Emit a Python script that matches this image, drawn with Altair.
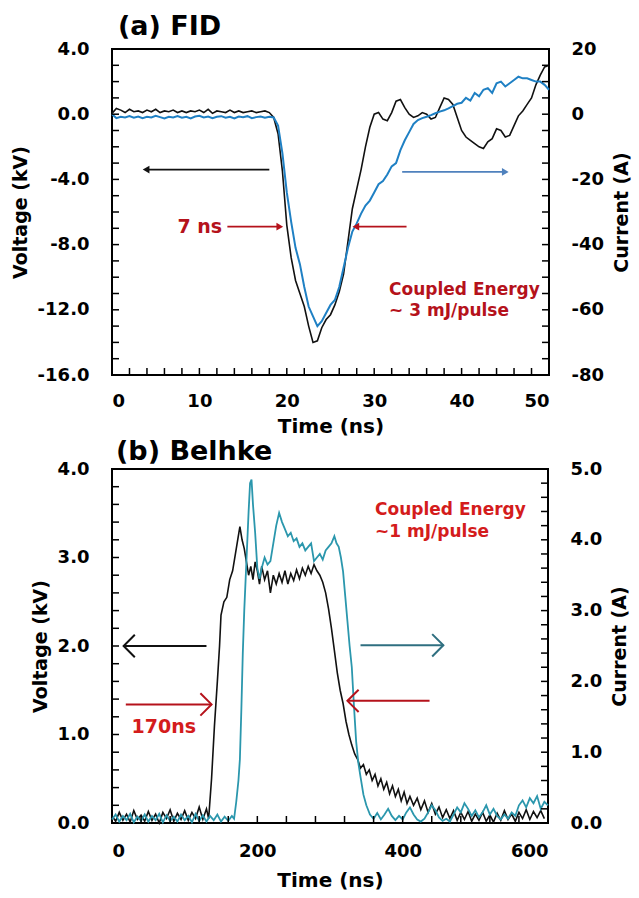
import altair as alt
import pandas as pd

FONT = "DejaVu Sans"
RED_A = "#b5121b"
RED_B = "#d41c1c"
BLUE_A = "#1f80c4"
BLUE_ARROW = "#4f81bd"
TEAL_B = "#2b97ad"
TEAL_ARROW = "#2f6f80"

# ---------------- Panel (a) FID ----------------
a_time = [0.0, 0.5, 1.0, 1.5, 2.0, 2.5, 3.0, 3.5, 4.0, 4.5,
          5.0, 5.5, 6.0, 6.5, 7.0, 7.5, 8.0, 8.5, 9.0, 9.5,
          10.0, 10.5, 11.0, 11.5, 12.0, 12.5, 13.0, 13.5, 14.0, 14.5,
          15.0, 15.5, 16.0, 16.5, 17.0, 17.5, 18.0, 18.5, 19.0, 19.5,
          20.0, 20.5, 21.0, 21.5, 22.0, 22.5, 23.0, 23.5, 24.0, 24.5,
          25.0, 25.5, 26.0, 26.5, 27.0, 27.5, 28.0, 28.5, 29.0, 29.5,
          30.0, 30.5, 31.0, 31.5, 32.0, 32.5, 33.0, 33.5, 34.0, 34.5,
          35.0, 35.5, 36.0, 36.5, 37.0, 37.5, 38.0, 38.5, 39.0, 39.5,
          40.0, 40.5, 41.0, 41.5, 42.0, 42.5, 43.0, 43.5, 44.0, 44.5,
          45.0, 45.5, 46.0, 46.5, 47.0, 47.5, 48.0, 48.5, 49.0, 49.5,
          50.0]
a_voltage = [0.05, 0.35, 0.25, 0.1, 0.3, 0.15, 0.2, 0.1, 0.25, 0.15,
             0.3, 0.1, 0.2, 0.15, 0.25, 0.1, 0.2, 0.1, 0.2, 0.15,
             0.25, 0.1, 0.3, 0.05, 0.2, 0.15, 0.1, 0.25, 0.1, 0.2,
             0.1, 0.15, 0.2, 0.1, 0.15, 0.2, 0.1, -0.2, -1.2, -3.5,
             -6.8, -8.8, -10.2, -11.0, -11.8, -13.0, -14.0, -13.9, -13.1, -12.6,
             -12.3, -11.7, -10.9, -9.8, -7.8, -5.8, -4.6, -3.4, -2.0, -0.8,
             0.0, 0.1, -0.3, -0.4, 0.1, 0.8, 0.9, 0.4, 0.0, -0.2,
             -0.1, 0.1, 0.0, -0.3, -0.2, 0.4, 1.0, 0.9, 0.6, -0.2,
             -1.0, -1.4, -1.6, -1.8, -2.0, -2.1, -1.7, -1.5, -0.9, -1.0,
             -1.4, -1.3, -0.7, -0.1, 0.2, 0.6, 1.0, 1.8, 2.4, 2.9,
             3.0]
a_current = [0.0, -1.2, -0.8, -1.0, -0.6, -1.1, -0.7, -1.2, -0.8, -1.0,
             -0.5, -0.9, -1.3, -0.8, -1.0, -0.6, -1.1, -0.8, -1.3, -0.7,
             -0.5, -1.0, -0.7, -1.2, -0.8, -0.6, -1.1, -0.8, -1.3, -0.7,
             -0.9, -0.6, -1.2, -0.9, -0.7, -1.1, -0.8, -1.0, -3.5, -12.0,
             -24.0, -33.0, -41.0, -46.0, -53.0, -59.0, -62.0, -65.0, -63.5, -61.0,
             -58.5, -57.0, -53.0, -47.0, -41.0, -36.0, -33.5, -30.5, -28.0, -26.5,
             -24.0, -21.5, -20.5, -18.5, -16.0, -15.0, -11.0, -8.0, -5.5, -3.0,
             -1.8, -1.2, -0.8, -0.3, 0.3, 0.8, 1.2, 1.8, 2.5, 3.2,
             3.5, 5.0, 4.2, 6.5, 5.5, 7.5, 8.0, 6.5, 9.5, 10.0,
             8.5, 9.5, 10.5, 11.5, 11.0, 11.0, 10.5, 10.0, 10.0, 9.0,
             7.5]

a_x_labels = [0, 10, 20, 30, 40, 50]
a_x_ticks = [2, 4, 6, 8, 10, 12, 14, 16, 18, 20, 22, 24, 26, 28, 30, 32, 34, 36, 38, 40, 42, 44, 46, 48]
a_v_labels = [-16, -12, -8, -4, 0, 4]
a_v_ticks = [-15, -14, -13, -12, -11, -10, -9, -8, -7, -6, -5, -4, -3, -2, -1, 0, 1, 2, 3]
a_i_labels = [-80, -60, -40, -20, 0, 20]
a_i_ticks = [-75, -70, -65, -60, -55, -50, -45, -40, -35, -30, -25, -20, -15, -10, -5, 0, 5, 10, 15]

# annotations (data units)
a_volt_arrows = pd.DataFrame({"x1": [18.0, 13.2, 33.7], "x2": [3.9, 19.2, 27.9],
                              "y": [-3.4, -6.9, -6.9], "c": ["black", "red", "red"],
                              "dir": ["left", "right", "left"]})
a_curr_arrows = pd.DataFrame({"x1": [33.2], "x2": [45.0], "y": [-17.7]})
a_texts = pd.DataFrame({"x": [12.6, 31.7, 31.7], "y": [-6.9, -10.8, -12.1],
                        "label": ["7 ns", "Coupled Energy", "~ 3 mJ/pulse"]})

# ---------------- Panel (b) Belhke ----------------
b_volt_time = (list(range(0, 131, 5)) +
               [133, 137, 141, 145, 148, 150, 154, 158, 162, 166, 170, 174, 176, 179, 182, 185, 188, 191, 194, 197] +
               [200, 203, 206, 210, 214, 218, 222, 226, 230, 234, 238, 242, 246, 250, 254, 258, 262, 266, 270,
                274, 278, 282, 286, 290, 294, 298] +
               [302, 306, 310, 314, 318, 322, 326, 330, 334, 338, 342, 346, 350, 354, 358, 362, 366, 370, 374,
                378, 382, 386, 390, 394, 398, 402, 406, 410] +
               list(range(415, 596, 5)))
b_voltage = ([0.08, 0.02, 0.12, 0.03, 0.10, 0.01, 0.14, 0.04, 0.09, 0.02, 0.13, 0.03, 0.10, 0.00, 0.12,
              0.05, 0.15, 0.02, 0.11, 0.04, 0.14, 0.03, 0.12, 0.05, 0.18, 0.04, 0.16] +
             [0.05, 0.5, 1.1, 1.6, 2.0, 2.35, 2.5, 2.55, 2.75, 2.85, 3.05, 3.25, 3.35, 3.2, 3.1, 2.95, 2.8, 2.9, 2.75, 2.95] +
             [2.85, 2.7, 2.9, 2.75, 2.85, 2.6, 2.8, 2.7, 2.82, 2.72, 2.85, 2.7, 2.82, 2.74, 2.86, 2.76, 2.88, 2.8, 2.9,
              2.82, 2.92, 2.85, 2.8, 2.72, 2.6, 2.42] +
             [2.2, 1.95, 1.7, 1.5, 1.35, 1.15, 1.0, 0.88, 0.78, 0.72, 0.62, 0.66, 0.55, 0.6, 0.48, 0.55, 0.42, 0.5, 0.38,
              0.46, 0.33, 0.42, 0.3, 0.38, 0.25, 0.35, 0.22, 0.3] +
             [0.2, 0.28, 0.15, 0.25, 0.12, 0.22, 0.1, 0.18, 0.06, 0.15, 0.05, 0.14, 0.03, 0.12, 0.04, 0.13, 0.02, 0.1,
              0.03, 0.12, 0.02, 0.09, 0.01, 0.11, 0.03, 0.14, 0.04, 0.1, 0.02, 0.12, 0.05, 0.15, 0.04, 0.13, 0.06,
              0.14, 0.05])
b_curr_time = (list(range(0, 166, 5)) +
               [168, 171, 174, 176, 178, 180, 182, 185, 188, 190, 192, 194, 197, 200, 203, 206, 210, 214, 218, 222,
                226, 230, 234, 238, 242, 246, 250, 254, 258, 262, 266, 270, 274, 278, 282, 286, 290, 294, 298, 302,
                306, 309, 312, 315, 318, 321, 324, 327, 330, 333, 336, 339, 342, 346, 350, 355] +
               list(range(360, 601, 5)))
b_current = ([0.05, 0.12, 0.02, 0.1, 0.04, 0.13, 0.01, 0.09, 0.03, 0.12, 0.02, 0.1, 0.04, 0.13, 0.01, 0.11, 0.03,
              0.09, 0.02, 0.12, 0.04, 0.1, 0.01, 0.13, 0.03, 0.11, 0.02, 0.1, 0.04, 0.12, 0.02, 0.09, 0.03, 0.1] +
             [0.06, 0.3, 0.6, 0.9, 1.6, 2.4, 3.0, 3.7, 4.4, 4.8, 4.85, 4.5, 4.1, 3.6, 3.45, 3.6, 3.75, 3.65, 3.7, 3.95,
              4.2, 4.38, 4.25, 4.15, 4.05, 4.1, 3.98, 4.02, 3.9, 3.95, 3.85, 3.9, 3.95, 3.7, 3.75, 3.8, 3.72, 3.85,
              3.9, 3.95, 4.05, 3.95, 3.9, 3.75, 3.55, 3.2, 2.85, 2.5, 2.2, 1.65, 1.15, 0.85, 0.65, 0.4, 0.25, 0.12] +
             [0.06, 0.14, 0.05, 0.12, 0.2, 0.1, 0.04, 0.1, 0.05, 0.15, 0.22, 0.12, 0.05, 0.02, 0.06, 0.15, 0.25,
              0.18, 0.08, 0.03, 0.06, 0.02, 0.12, 0.22, 0.15, 0.28, 0.2, 0.1, 0.18, 0.08, 0.15, 0.25, 0.12, 0.2,
              0.1, 0.05, 0.12, 0.06, 0.15, 0.1, 0.25, 0.32, 0.22, 0.35, 0.28, 0.38, 0.2, 0.3, 0.25])

b_x_labels = [0, 200, 400, 600]
b_x_ticks = [40, 80, 120, 160, 200, 240, 280, 320, 360, 400, 440, 480, 520, 560]
b_v_labels = [0, 1, 2, 3, 4]
b_v_ticks = [0.2, 0.4, 0.6, 0.8, 1.0, 1.2, 1.4, 1.6, 1.8, 2.0, 2.2, 2.4, 2.6, 2.8, 3.0, 3.2, 3.4, 3.6, 3.8]
b_i_labels = [0, 1, 2, 3, 4, 5]
b_i_ticks = [0.2, 0.4, 0.6, 0.8, 1.0, 1.2, 1.4, 1.6, 1.8, 2.0, 2.2, 2.4, 2.6, 2.8, 3.0, 3.2, 3.4, 3.6, 3.8,
             4.0, 4.2, 4.4, 4.6, 4.8]

b_volt_arrows = pd.DataFrame({"x1": [130, 19, 437], "x2": [16, 137, 324], "y": [2.0, 1.34, 1.38],
                              "c": ["black", "red", "red"], "dir": ["left", "right", "left"]})
b_curr_arrows = pd.DataFrame({"x1": [342], "x2": [456], "y": [2.51]})
b_texts = pd.DataFrame({"x": [27, 362, 362], "y": [1.08, 3.54, 3.29],
                        "label": ["170ns", "Coupled Energy", "~1 mJ/pulse"]})

SIGN_1F = "(datum.value < 0 ? '-' : '') + format(abs(datum.value), '.1f')"
SIGN_D = "(datum.value < 0 ? '-' : '') + format(abs(datum.value), 'd')"

CHEV_R = "M-1,-1L0,0L-1,1"
CHEV_L = "M1,-1L0,0L1,1"


def make_panel(W, H, xdom, xlabels, xticks, vdom, vlabels, vticks, idom, ilabels, iticks,
               df_v, df_i, line_v_color, line_i_color, vfmt, ifmt, lw_v, lw_i, xlp, xtp):
    xs = alt.Scale(domain=xdom, nice=False, zero=False)
    xaxis = alt.Axis(title="Time (ns)", values=xlabels, format="d", ticks=False, domain=False,
                     grid=False, labelPadding=xlp, titlePadding=xtp, titleFontSize=20)

    def X(f):
        return alt.X(f + ":Q", scale=xs, axis=xaxis)

    def V(f, axis=None):
        return alt.Y(f + ":Q", scale=alt.Scale(domain=vdom, nice=False, zero=False), axis=axis)

    def I(f, axis=None):
        return alt.Y(f + ":Q", scale=alt.Scale(domain=idom, nice=False, zero=False), axis=axis)

    vaxis = alt.Axis(title="Voltage (kV)", orient="left", values=vlabels, labelExpr=vfmt, ticks=False,
                     domain=False, grid=False, labelPadding=23, titlePadding=7, titleFontSize=19)
    iaxis = alt.Axis(title="Current (A)", orient="right", values=ilabels, labelExpr=ifmt, ticks=False,
                     domain=False, grid=False, labelPadding=22, titlePadding=9, titleAngle=270,
                     titleBaseline="top", titleFontSize=19)

    volt = alt.Chart(df_v).mark_line(color=line_v_color, strokeWidth=lw_v).encode(x=X("t"), y=V("v", vaxis))
    curr = alt.Chart(df_i).mark_line(color=line_i_color, strokeWidth=lw_i).encode(x=X("t"), y=I("i", iaxis))

    tick_style = dict(color="#000", strokeWidth=1.5)
    vt = alt.Chart(pd.DataFrame({"v": vticks})).mark_rule(**tick_style).encode(
        y=V("v"), x=alt.value(0), x2=alt.value(7))
    it = alt.Chart(pd.DataFrame({"i": iticks})).mark_rule(**tick_style).encode(
        y=I("i"), x=alt.value(W - 7), x2=alt.value(W))
    xt = alt.Chart(pd.DataFrame({"t": xticks})).mark_rule(**tick_style).encode(
        x=X("t"), y=alt.value(H), y2=alt.value(H - 7))
    return volt, curr, vt, it, xt, X, V, I


# ---- build panel a ----
WA, HA = 437, 326
df_av = pd.DataFrame({"t": a_time, "v": a_voltage})
df_ai = pd.DataFrame({"t": a_time, "i": a_current})
volt_a, curr_a, vt_a, it_a, xt_a, XA, VA, IA = make_panel(
    WA, HA, [0, 50], a_x_labels, a_x_ticks, [-16, 4], a_v_labels, a_v_ticks, [-80, 20], a_i_labels, a_i_ticks,
    df_av, df_ai, "#111111", BLUE_A, SIGN_1F, SIGN_D, 1.6, 2, 17, 6)

a_cmap = alt.Scale(domain=["black", "red"], range=["#111111", RED_A])
arr_a_v = alt.Chart(a_volt_arrows).mark_rule(strokeWidth=1.8).encode(
    x=XA("x1"), x2="x2:Q", y=VA("y"), color=alt.Color("c:N", scale=a_cmap, legend=None))
head_a_vl = alt.Chart(a_volt_arrows[a_volt_arrows["dir"] == "left"]).mark_point(
    filled=True, opacity=1, size=60, shape="triangle-left").encode(
    x=XA("x2"), y=VA("y"), color=alt.Color("c:N", scale=a_cmap, legend=None))
head_a_vr = alt.Chart(a_volt_arrows[a_volt_arrows["dir"] == "right"]).mark_point(
    filled=True, opacity=1, size=60, shape="triangle-right").encode(
    x=XA("x2"), y=VA("y"), color=alt.Color("c:N", scale=a_cmap, legend=None))
arr_a_i = alt.Chart(a_curr_arrows).mark_rule(strokeWidth=1.8, color=BLUE_ARROW).encode(
    x=XA("x1"), x2="x2:Q", y=IA("y"))
head_a_i = alt.Chart(a_curr_arrows).mark_point(filled=True, opacity=1, size=60, shape="triangle-right",
                                               color=BLUE_ARROW).encode(x=XA("x2"), y=IA("y"))
txt_a1 = alt.Chart(a_texts.iloc[[0]]).mark_text(font=FONT, fontWeight="bold", color=RED_A, baseline="middle",
                                                 align="right", fontSize=19).encode(
    x=XA("x"), y=VA("y"), text="label:N")
txt_a2 = alt.Chart(a_texts.iloc[[1, 2]]).mark_text(font=FONT, fontWeight="bold", color=RED_A, baseline="middle",
                                                    align="left", fontSize=17).encode(
    x=XA("x"), y=VA("y"), text="label:N")

panel_a = alt.layer(volt_a, curr_a, vt_a, it_a, xt_a, arr_a_v, head_a_vl, head_a_vr, arr_a_i, head_a_i,
                    txt_a1, txt_a2).resolve_scale(y="independent").properties(
    width=WA, height=HA,
    title=alt.TitleParams(text="(a) FID", anchor="start", frame="group", fontSize=27, font=FONT,
                          fontWeight="bold", color="#000", offset=-1, dx=6))

# ---- build panel b ----
WB, HB = 436, 354
df_bv = pd.DataFrame({"t": b_volt_time, "v": b_voltage})
df_bi = pd.DataFrame({"t": b_curr_time, "i": b_current})
volt_b, curr_b, vt_b, it_b, xt_b, XB, VB, IB = make_panel(
    WB, HB, [0, 600], b_x_labels, b_x_ticks, [0, 4], b_v_labels, b_v_ticks, [0, 5], b_i_labels, b_i_ticks,
    df_bv, df_bi, "#111111", TEAL_B, SIGN_1F, SIGN_1F, 1.6, 1.8, 19, 10)

b_cmap = alt.Scale(domain=["black", "red"], range=["#222222", RED_B])
arr_b_v = alt.Chart(b_volt_arrows).mark_rule(strokeWidth=2).encode(
    x=XB("x1"), x2="x2:Q", y=VB("y"), color=alt.Color("c:N", scale=b_cmap, legend=None))
head_b_vl = alt.Chart(b_volt_arrows[b_volt_arrows["dir"] == "left"]).mark_point(
    filled=False, opacity=1, size=500, shape=CHEV_L, strokeWidth=2).encode(
    x=XB("x2"), y=VB("y"), color=alt.Color("c:N", scale=b_cmap, legend=None))
head_b_vr = alt.Chart(b_volt_arrows[b_volt_arrows["dir"] == "right"]).mark_point(
    filled=False, opacity=1, size=500, shape=CHEV_R, strokeWidth=2).encode(
    x=XB("x2"), y=VB("y"), color=alt.Color("c:N", scale=b_cmap, legend=None))
arr_b_i = alt.Chart(b_curr_arrows).mark_rule(strokeWidth=2, color=TEAL_ARROW).encode(
    x=XB("x1"), x2="x2:Q", y=IB("y"))
head_b_i = alt.Chart(b_curr_arrows).mark_point(filled=False, opacity=1, size=500, shape=CHEV_R, strokeWidth=2,
                                               color=TEAL_ARROW).encode(x=XB("x2"), y=IB("y"))
txt_b1 = alt.Chart(b_texts.iloc[[0]]).mark_text(font=FONT, fontWeight="bold", color=RED_B, baseline="middle",
                                                 align="left", fontSize=19).encode(
    x=XB("x"), y=VB("y"), text="label:N")
txt_b2 = alt.Chart(b_texts.iloc[[1, 2]]).mark_text(font=FONT, fontWeight="bold", color=RED_B, baseline="middle",
                                                    align="left", fontSize=17).encode(
    x=XB("x"), y=VB("y"), text="label:N")

panel_b = alt.layer(volt_b, curr_b, vt_b, it_b, xt_b, arr_b_v, head_b_vl, head_b_vr, arr_b_i, head_b_i,
                    txt_b1, txt_b2).resolve_scale(y="independent").properties(
    width=WB, height=HB,
    title=alt.TitleParams(text="(b) Belhke", anchor="start", frame="group", fontSize=27, font=FONT,
                          fontWeight="bold", color="#000", offset=-6, dx=4))

chart = alt.vconcat(panel_a, panel_b, spacing=0).properties(
    padding={"left": 10, "top": 12, "right": 4, "bottom": 4}, background="white"
).configure_view(stroke="#000", strokeWidth=2).configure_axis(
    labelFont=FONT, labelFontWeight="bold", labelFontSize=18, labelColor="#000",
    titleFont=FONT, titleFontWeight="bold", titleFontSize=18, titleColor="#000"
)

chart.save("out.html", embed_options={"renderer": "svg", "actions": False})
